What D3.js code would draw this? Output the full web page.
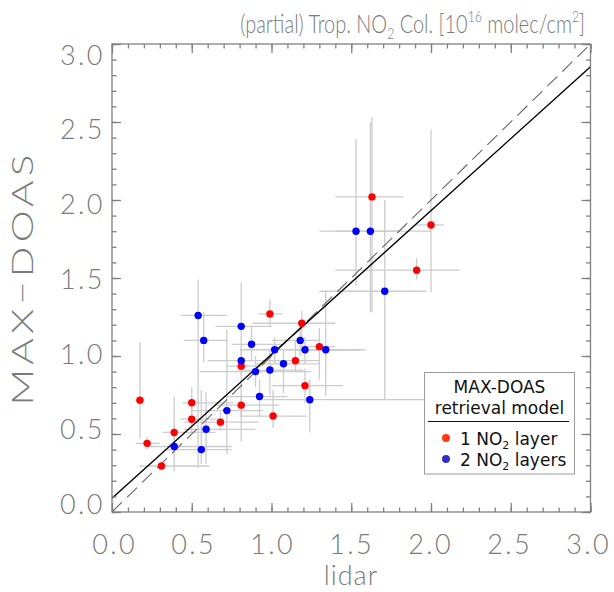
<!DOCTYPE html>
<html>
<head>
<meta charset="utf-8">
<script src="https://cdn.jsdelivr.net/npm/d3@7"></script>
<style>
  html, body { margin: 0; padding: 0; background: #fff; }
  svg { display: block; }
  .thin { font-family: "Lato", "DejaVu Sans", sans-serif; font-weight: 300; fill: #7a7a7a; }
  .leg { font-family: "DejaVu Sans", Verdana, sans-serif; fill: #111; }
</style>
</head>
<body>
<svg id="chart" width="614" height="592"></svg>
<script>
// Tropospheric NO2 columns: MAX-DOAS vs lidar, 10^16 molec/cm^2
// One-layer retrieval model (red)
const oneX    = [0.175, 0.22, 0.31, 0.39, 0.50, 0.50, 0.68, 0.81, 0.81, 0.99, 1.01, 1.15, 1.19, 1.21, 1.30, 1.63, 1.91, 2.00];
const oneY    = [0.717, 0.44, 0.295, 0.51, 0.70, 0.595, 0.576, 0.935, 0.685, 1.27, 0.615, 0.97, 1.21, 0.81, 1.06, 2.02, 1.55, 1.84];
const oneXlo  = [0.145, 0.15, 0.17, 0.32, 0.44, 0.43, 0.45, 0.72, 0.64, 0.92, 0.80, 0.95, 0.88, 1.00, 1.20, 1.40, 1.40, 1.90];
const oneXhi  = [0.205, 0.30, 0.61, 0.65, 0.76, 0.70, 0.92, 0.95, 1.05, 1.07, 1.22, 1.30, 1.40, 1.45, 1.40, 1.83, 2.18, 2.08];
const oneYlo  = [0.47, 0.40, 0.27, 0.46, 0.60, 0.50, 0.52, 0.88, 0.62, 1.19, 0.54, 0.90, 1.06, 0.70, 0.85, 1.28, 1.49, 1.41];
const oneYhi  = [1.09, 0.48, 0.32, 0.56, 0.80, 0.70, 0.64, 0.99, 0.75, 1.36, 0.78, 1.10, 1.29, 0.92, 1.18, 2.53, 1.63, 2.45];

// Two-layer retrieval model (blue)
const twoX    = [0.39, 0.54, 0.56, 0.575, 0.59, 0.72, 0.81, 0.81, 0.875, 0.90, 0.925, 0.99, 1.02, 1.075, 1.18, 1.21, 1.24, 1.34, 1.53, 1.62, 1.71];
const twoY    = [0.42, 1.26, 0.40, 1.10, 0.53, 0.65, 1.19, 0.97, 1.075, 0.90, 0.74, 0.91, 1.04, 0.95, 1.10, 1.04, 0.72, 1.04, 1.80, 1.80, 1.415];
const twoXlo  = [0.23, 0.43, 0.33, 0.45, 0.45, 0.50, 0.65, 0.60, 0.75, 0.55, 0.70, 0.80, 0.80, 0.90, 1.00, 1.10, 0.95, 1.15, 1.30, 1.40, 1.30];
const twoXhi  = [0.75, 0.72, 0.75, 0.72, 0.90, 0.95, 1.00, 1.20, 1.08, 1.25, 1.10, 1.20, 1.55, 1.30, 1.30, 1.55, 2.05, 1.59, 1.80, 2.00, 1.97];
const twoYlo  = [0.26, 0.28, 0.31, 0.96, 0.31, 0.37, 0.45, 0.90, 0.97, 0.80, 0.61, 0.75, 0.95, 0.76, 1.00, 0.95, 0.51, 0.74, 1.45, 1.28, 0.72];
const twoYhi  = [0.74, 1.49, 0.78, 1.28, 0.77, 1.17, 1.47, 1.05, 1.19, 1.00, 0.85, 1.05, 1.12, 1.04, 1.20, 1.12, 0.85, 1.42, 2.39, 2.50, 2.00];

// Linear fit (solid) and 1:1 reference (dashed)
const fitIntercept = 0.088;
const fitSlope = 0.922;

const majorTicks = [0, 0.5, 1.0, 1.5, 2.0, 2.5, 3.0];
const tickLabels = ["0.0", "0.5", "1.0", "1.5", "2.0", "2.5", "3.0"];
const minorTicks = d3.range(0, 31).map(i => i / 10);

const svg = d3.select("#chart");
const x = d3.scaleLinear().domain([0, 3]).range([112, 590.5]);
const y = d3.scaleLinear().domain([0, 3]).range([512, 44]);
// tick labels sit on a slightly tighter spacing than the ticks
const xLab = d3.scaleLinear().domain([0, 3]).range([113, 587]);
const yLab = d3.scaleLinear().domain([0, 3]).range([504.5, 55]);

const axisCol = "#808080";

// stretch a text element horizontally (in its own frame) to a target width
function fitWidth(sel, target) {
  const w = sel.node().getBBox().width;
  return target / w;
}

// error bars
const bars = svg.append("g").attr("stroke", "#cccccc").attr("stroke-width", 1.3);
function drawBars(xs, ys, xlo, xhi, ylo, yhi) {
  xs.forEach((v, i) => {
    bars.append("line").attr("x1", x(xlo[i])).attr("x2", x(xhi[i]))
      .attr("y1", y(ys[i])).attr("y2", y(ys[i]));
    bars.append("line").attr("x1", x(v)).attr("x2", x(v))
      .attr("y1", y(ylo[i])).attr("y2", y(yhi[i]));
  });
}
drawBars(oneX, oneY, oneXlo, oneXhi, oneYlo, oneYhi);
drawBars(twoX, twoY, twoXlo, twoXhi, twoYlo, twoYhi);

// reference lines
svg.append("line")
  .attr("x1", x(0)).attr("y1", y(0)).attr("x2", x(3)).attr("y2", y(3))
  .attr("stroke", "#666").attr("stroke-width", 1.1).attr("stroke-dasharray", "14,7");
svg.append("line")
  .attr("x1", x(0)).attr("y1", y(fitIntercept))
  .attr("x2", x(3)).attr("y2", y(fitIntercept + 3 * fitSlope))
  .attr("stroke", "#000").attr("stroke-width", 1.4);

// points
svg.append("g").selectAll("circle").data(oneX).join("circle")
  .attr("cx", d => x(d)).attr("cy", (d, i) => y(oneY[i])).attr("r", 3.7).attr("fill", "#ff0000");
svg.append("g").selectAll("circle").data(twoX).join("circle")
  .attr("cx", d => x(d)).attr("cy", (d, i) => y(twoY[i])).attr("r", 3.7).attr("fill", "#0000ff");

// axes on all four sides, ticks pointing inward
function styleAxis(g) {
  g.select(".domain").remove();
  g.selectAll("line").attr("stroke", axisCol).attr("stroke-width", 1.3);
}
const fmtNone = () => "";
const yH = y(0) - y(3), xW = x(3) - x(0);

svg.append("g").attr("transform", `translate(0,${y(0)})`)
  .call(d3.axisBottom(x).tickValues(minorTicks).tickSize(-4.5).tickFormat(fmtNone)).call(styleAxis);
svg.append("g").attr("transform", `translate(0,${y(3)})`)
  .call(d3.axisTop(x).tickValues(minorTicks).tickSize(-4.5).tickFormat(fmtNone)).call(styleAxis);
svg.append("g").attr("transform", `translate(${x(0)},0)`)
  .call(d3.axisLeft(y).tickValues(minorTicks).tickSize(-4.5).tickFormat(fmtNone)).call(styleAxis);
svg.append("g").attr("transform", `translate(${x(3)},0)`)
  .call(d3.axisRight(y).tickValues(minorTicks).tickSize(-4.5).tickFormat(fmtNone)).call(styleAxis);

const xAxis = svg.append("g").attr("transform", `translate(0,${y(0)})`)
  .call(d3.axisBottom(x).tickValues(majorTicks).tickSize(-9).tickFormat((d, i) => tickLabels[i]));
styleAxis(xAxis);
xAxis.selectAll("text")
  .attr("class", "thin").attr("font-size", 27).attr("fill", "#7a7a7a")
  .attr("letter-spacing", 2.5)
  .attr("y", 42).attr("dy", 0)
  .attr("x", d => xLab(d) - x(d) + 1.2);

const yAxis = svg.append("g").attr("transform", `translate(${x(0)},0)`)
  .call(d3.axisLeft(y).tickValues(majorTicks).tickSize(-9).tickFormat((d, i) => tickLabels[i]));
styleAxis(yAxis);
yAxis.selectAll("text")
  .attr("class", "thin").attr("font-size", 27).attr("fill", "#7a7a7a")
  .attr("letter-spacing", 2.5)
  .attr("x", -7).attr("dy", d => (yLab(d) - y(d)) + 9);

svg.append("g").attr("transform", `translate(0,${y(3)})`)
  .call(d3.axisTop(x).tickValues(majorTicks).tickSize(-9).tickFormat(fmtNone)).call(styleAxis);
svg.append("g").attr("transform", `translate(${x(3)},0)`)
  .call(d3.axisRight(y).tickValues(majorTicks).tickSize(-9).tickFormat(fmtNone)).call(styleAxis);

// frame
svg.append("rect").attr("x", x(0)).attr("y", y(3)).attr("width", xW).attr("height", yH)
  .attr("fill", "none").attr("stroke", axisCol).attr("stroke-width", 1.3);

// title
const titleG = svg.append("g");
const title = titleG.append("text").attr("class", "thin").attr("font-size", 26)
  .attr("x", 0).attr("y", 0).attr("text-anchor", "end");
title.append("tspan").text("(partial) Trop. NO");
title.append("tspan").attr("font-size", 16).attr("dy", 6).text("2");
title.append("tspan").attr("dy", -6).text(" Col. [10");
title.append("tspan").attr("font-size", 16).attr("dy", -11).text("16");
title.append("tspan").attr("dy", 11).text(" molec/cm");
title.append("tspan").attr("font-size", 16).attr("dy", -11).text("2");
title.append("tspan").attr("dy", 11).text("]");
titleG.attr("transform", `translate(585,33) scale(${fitWidth(title, 345)},1)`);

// axis titles
svg.append("text").attr("class", "thin").attr("font-size", 27)
  .attr("x", 351).attr("y", 585).attr("text-anchor", "middle")
  .attr("letter-spacing", 1).text("lidar");
const yTitleG = svg.append("g");
const yTitle = yTitleG.append("text").attr("class", "thin").attr("font-size", 29)
  .attr("x", 0).attr("y", 0).attr("text-anchor", "middle")
  .attr("letter-spacing", 3).text("MAX\u2212DOAS");
yTitleG.attr("transform", `translate(33,278) rotate(-90) scale(${fitWidth(yTitle, 255)},1)`);

// legend
const lg = svg.append("g");
lg.append("rect").attr("x", 424.5).attr("y", 372.5).attr("width", 150).attr("height", 101.5)
  .attr("fill", "#fff").attr("stroke", "#9a9a9a").attr("stroke-width", 1);
lg.append("text").attr("class", "leg").attr("font-size", 17).attr("x", 499.5).attr("y", 393)
  .attr("text-anchor", "middle").text("MAX-DOAS");
lg.append("text").attr("class", "leg").attr("font-size", 17).attr("x", 499.5).attr("y", 414)
  .attr("text-anchor", "middle").text("retrieval model");
lg.append("line").attr("x1", 428).attr("x2", 569).attr("y1", 421.5).attr("y2", 421.5)
  .attr("stroke", "#111").attr("stroke-width", 1);
const legItems = [
  { col: "#ff3a10", label: "layer", n: "1" },
  { col: "#3030c8", label: "layers", n: "2" }
];
legItems.forEach((it, i) => {
  const cy = 438 + i * 21;
  lg.append("circle").attr("cx", 446).attr("cy", cy).attr("r", 4).attr("fill", it.col);
  const t = lg.append("text").attr("class", "leg").attr("font-size", 17).attr("x", 460).attr("y", cy + 7);
  t.append("tspan").text(it.n + " NO");
  t.append("tspan").attr("font-size", 11).attr("dy", 4).text("2");
  t.append("tspan").attr("dy", -4).text(" " + it.label);
});
</script>
</body>
</html>
